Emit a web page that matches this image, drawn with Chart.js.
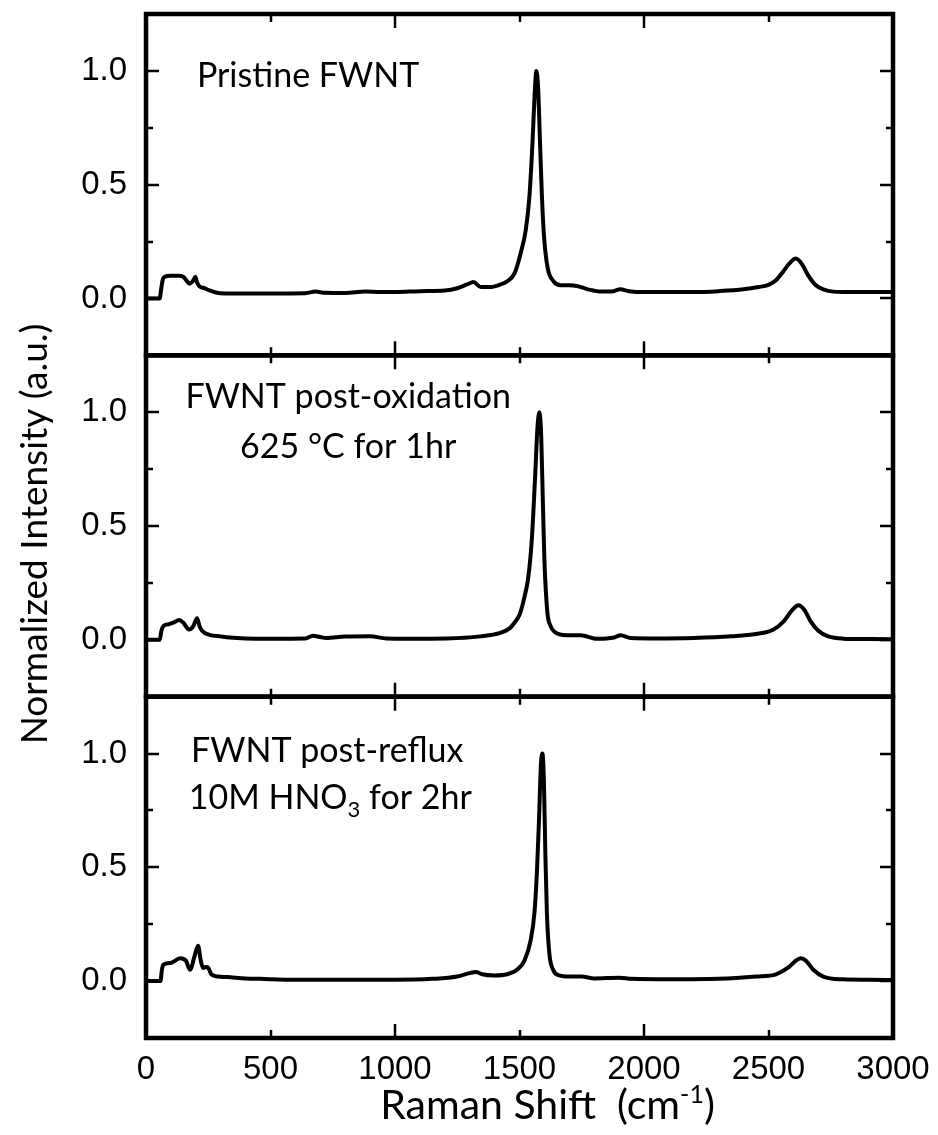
<!DOCTYPE html>
<html>
<head>
<meta charset="utf-8">
<script src="https://cdn.jsdelivr.net/npm/chart.js@4.4.1/dist/chart.umd.min.js"></script>
<style>
html, body { margin: 0; padding: 0; background: #fff; }
#wrap { width: 938px; height: 1135px; }
</style>
</head>
<body>
<div id="wrap"><canvas id="chart" width="938" height="1135"></canvas></div>
<script>
// Raman spectra (shift in cm-1, normalized intensity)
const shiftPristine = [0, 55, 62, 68, 75, 100, 130, 150, 165, 175, 190, 198, 205, 215, 235, 255, 280, 320, 400, 500, 640, 680, 720, 800, 880, 940, 1000, 1100, 1200, 1250, 1290, 1315, 1345, 1380, 1420, 1450, 1480, 1505, 1525, 1540, 1552, 1561, 1568, 1575, 1582, 1590, 1598, 1612, 1637, 1665, 1700, 1730, 1775, 1830, 1870, 1905, 1940, 2000, 2100, 2200, 2300, 2400, 2460, 2500, 2530, 2560, 2585, 2610, 2635, 2660, 2690, 2720, 2760, 2820, 2900, 3000];
const intensityPristine = [0, 0, 0.05, 0.085, 0.095, 0.1, 0.1, 0.095, 0.075, 0.065, 0.08, 0.095, 0.07, 0.053, 0.045, 0.035, 0.026, 0.022, 0.022, 0.022, 0.023, 0.03, 0.025, 0.024, 0.03, 0.028, 0.028, 0.032, 0.035, 0.045, 0.062, 0.072, 0.05, 0.05, 0.06, 0.075, 0.11, 0.2, 0.3, 0.45, 0.68, 0.9, 1.0, 0.92, 0.7, 0.45, 0.28, 0.14, 0.075, 0.058, 0.058, 0.055, 0.04, 0.03, 0.03, 0.04, 0.032, 0.028, 0.028, 0.028, 0.032, 0.04, 0.05, 0.06, 0.08, 0.12, 0.155, 0.175, 0.15, 0.1, 0.058, 0.04, 0.03, 0.028, 0.028, 0.028];

const shiftOxidized = [0, 55, 62, 70, 90, 110, 133, 150, 173, 190, 205, 215, 225, 255, 300, 335, 400, 500, 640, 671, 700, 724, 800, 900, 965, 1050, 1210, 1343, 1423, 1460, 1480, 1500, 1516, 1536, 1550, 1562, 1572, 1580, 1587, 1594, 1600, 1612, 1625, 1640, 1690, 1745, 1813, 1880, 1906, 1946, 2050, 2200, 2350, 2450, 2520, 2560, 2595, 2620, 2645, 2670, 2700, 2740, 2800, 2900, 3000];
const intensityOxidized = [0, 0, 0.04, 0.06, 0.068, 0.075, 0.087, 0.075, 0.045, 0.06, 0.095, 0.06, 0.04, 0.022, 0.015, 0.01, 0.006, 0.005, 0.006, 0.018, 0.012, 0.008, 0.014, 0.015, 0.006, 0.005, 0.006, 0.015, 0.03, 0.05, 0.075, 0.11, 0.17, 0.28, 0.45, 0.7, 0.93, 1.0, 0.9, 0.6, 0.35, 0.12, 0.06, 0.035, 0.02, 0.02, 0.004, 0.01, 0.02, 0.008, 0.006, 0.008, 0.015, 0.025, 0.045, 0.08, 0.13, 0.152, 0.13, 0.08, 0.04, 0.015, 0.005, 0.003, 0.002];

const shiftRefluxed = [0, 58, 64, 70, 100, 137, 160, 177, 195, 209, 220, 229, 240, 249, 262, 290, 325, 400, 458, 600, 800, 1000, 1150, 1250, 1300, 1325, 1350, 1400, 1450, 1490, 1520, 1545, 1560, 1570, 1578, 1586, 1592, 1598, 1604, 1610, 1620, 1635, 1660, 1700, 1750, 1800, 1900, 1950, 2100, 2300, 2450, 2530, 2580, 2610, 2630, 2650, 2680, 2720, 2800, 2900, 3000];
const intensityRefluxed = [0, 0, 0.05, 0.072, 0.08, 0.1, 0.09, 0.05, 0.11, 0.155, 0.09, 0.058, 0.062, 0.06, 0.03, 0.02, 0.018, 0.012, 0.01, 0.006, 0.006, 0.006, 0.01, 0.02, 0.035, 0.04, 0.03, 0.025, 0.03, 0.05, 0.09, 0.18, 0.3, 0.48, 0.7, 0.95, 1.0, 0.88, 0.55, 0.3, 0.12, 0.05, 0.025, 0.02, 0.02, 0.012, 0.015, 0.01, 0.008, 0.01, 0.02, 0.03, 0.06, 0.09, 0.1, 0.09, 0.05, 0.02, 0.008, 0.006, 0.005];

// axes
const shiftMin = 0, shiftMax = 3000, shiftStep = 500;
const intensityMin = -0.25, intensityMax = 1.25, intensityStep = 0.25;
const intensityLabels = [0, 0.5, 1.0];

// panel captions: [axis, shift, intensity (baseline), text parts; part 1 is a subscript]
const captions = [
    ['yTop', 651, 0.93, ['Pristine FWNT']],
    ['yMid', 812, 1.02, ['FWNT post-oxidation']],
    ['yMid', 812, 0.80, ['625 \u00B0C for 1hr']],
    ['yBot', 728, 0.965, ['FWNT post-reflux']],
    ['yBot', 740, 0.757, ['10M HNO', '3', ' for 2hr']],
];

const tickFont = { family: "'Liberation Sans', Arial, sans-serif", size: 33 };
const textFont = "Lato, 'Open Sans', sans-serif";
const ink = '#000';

function toPoints(xs, ys) {
    return xs.map((x, i) => ({ x: x, y: ys[i] }));
}

function panelAxis() {
    return {
        type: 'linear',
        position: 'left',
        stack: 'panels',
        stackWeight: 1,
        min: intensityMin,
        max: intensityMax,
        grid: { display: false, drawTicks: false },
        border: { display: false },
        ticks: {
            stepSize: intensityStep,
            autoSkip: false,
            color: ink,
            font: tickFont,
            padding: 19,
            callback: v => intensityLabels.some(l => Math.abs(l - v) < 1e-6) ? v.toFixed(1) : '',
        },
        afterFit: s => { s.width = 146; s.paddingTop = 0; s.paddingBottom = 0; },
    };
}

// frames, inward ticks, captions and axis titles
const decorations = {
    id: 'decorations',
    afterDatasetsDraw(chart) {
        const ctx = chart.ctx;
        const area = chart.chartArea;
        const xs = chart.scales.x;
        ctx.save();
        ctx.strokeStyle = ink;
        ctx.fillStyle = ink;
        ['yTop', 'yMid', 'yBot'].forEach(id => {
            const s = chart.scales[id];
            ctx.lineWidth = 2.5;
            s.ticks.forEach(t => {
                if (t.value <= intensityMin + 1e-6 || t.value >= intensityMax - 1e-6) return;
                const major = intensityLabels.some(l => Math.abs(l - t.value) < 1e-6);
                const len = major ? 13 : 7;
                const py = Math.round(s.getPixelForValue(t.value));
                ctx.beginPath();
                ctx.moveTo(area.left, py); ctx.lineTo(area.left + len, py);
                ctx.moveTo(area.right, py); ctx.lineTo(area.right - len, py);
                ctx.stroke();
            });
            xs.ticks.forEach(t => {
                if (t.value <= shiftMin || t.value >= shiftMax) return;
                const len = t.value % 1000 === 0 ? 14 : 8;
                const px = Math.round(xs.getPixelForValue(t.value));
                ctx.beginPath();
                ctx.moveTo(px, s.top); ctx.lineTo(px, s.top + len);
                ctx.moveTo(px, s.bottom); ctx.lineTo(px, s.bottom - len);
                ctx.stroke();
            });
            ctx.lineWidth = 4.5;
            ctx.strokeRect(area.left, s.top, area.right - area.left, s.bottom - s.top);
        });

        // captions
        ctx.textBaseline = 'alphabetic';
        ctx.textAlign = 'left';
        const big = '34px ' + textFont, small = '22px ' + textFont;
        captions.forEach(([id, sx, sy, parts]) => {
            let w = 0;
            parts.forEach((p, i) => { ctx.font = i === 1 ? small : big; w += ctx.measureText(p).width; });
            let px = xs.getPixelForValue(sx) - w / 2;
            const py = chart.scales[id].getPixelForValue(sy);
            parts.forEach((p, i) => {
                ctx.font = i === 1 ? small : big;
                ctx.fillText(p, px, i === 1 ? py + 8 : py);
                px += ctx.measureText(p).width;
            });
        });

        // y title
        ctx.save();
        ctx.translate(47, (area.top + area.bottom) / 2 + 8);
        ctx.rotate(-Math.PI / 2);
        ctx.font = '37px ' + textFont;
        ctx.textAlign = 'center';
        ctx.fillText('Normalized Intensity (a.u.)', 0, 0);
        ctx.restore();

        // x title with superscript
        const xParts = ['Raman Shift  (cm', '-1', ')'];
        const xBig = '41px ' + textFont, xSmall = '25px ' + textFont;
        let w = 0;
        xParts.forEach((p, i) => { ctx.font = i === 1 ? xSmall : xBig; w += ctx.measureText(p).width; });
        let px = (area.left + area.right) / 2 + 28 - w / 2;
        const py = 1119;
        xParts.forEach((p, i) => {
            ctx.font = i === 1 ? xSmall : xBig;
            ctx.fillText(p, px, i === 1 ? py - 16 : py);
            px += ctx.measureText(p).width;
        });
        ctx.restore();
    }
};

const lineStyle = {
    borderColor: ink,
    borderWidth: 4,
    pointRadius: 0,
    fill: false,
    cubicInterpolationMode: 'monotone',
    xAxisID: 'x',
};

const chart = new Chart(document.getElementById('chart'), {
    type: 'line',
    data: {
        datasets: [
            Object.assign({ label: 'Pristine FWNT', data: toPoints(shiftPristine, intensityPristine), yAxisID: 'yTop' }, lineStyle),
            Object.assign({ label: 'FWNT post-oxidation', data: toPoints(shiftOxidized, intensityOxidized), yAxisID: 'yMid' }, lineStyle),
            Object.assign({ label: 'FWNT post-reflux', data: toPoints(shiftRefluxed, intensityRefluxed), yAxisID: 'yBot' }, lineStyle),
        ],
    },
    options: {
        responsive: false,
        animation: false,
        devicePixelRatio: 1,
        layout: { padding: { top: 14, right: 45, left: 0, bottom: 0 } },
        plugins: {
            legend: { display: false },
            tooltip: { enabled: false },
        },
        scales: {
            // stacked panels are laid out bottom-first
            yBot: panelAxis(),
            yMid: panelAxis(),
            yTop: panelAxis(),
            x: {
                type: 'linear',
                position: 'bottom',
                min: shiftMin,
                max: shiftMax,
                grid: { display: false, drawTicks: false },
                border: { display: false },
                ticks: {
                    stepSize: shiftStep,
                    autoSkip: false,
                    maxRotation: 0,
                    color: ink,
                    font: tickFont,
                    padding: 12,
                    callback: v => String(v),
                },
                afterFit: s => { s.height = 97; s.paddingLeft = 0; s.paddingRight = 0; },
            },
        },
    },
    plugins: [decorations],
});
</script>
</body>
</html>
